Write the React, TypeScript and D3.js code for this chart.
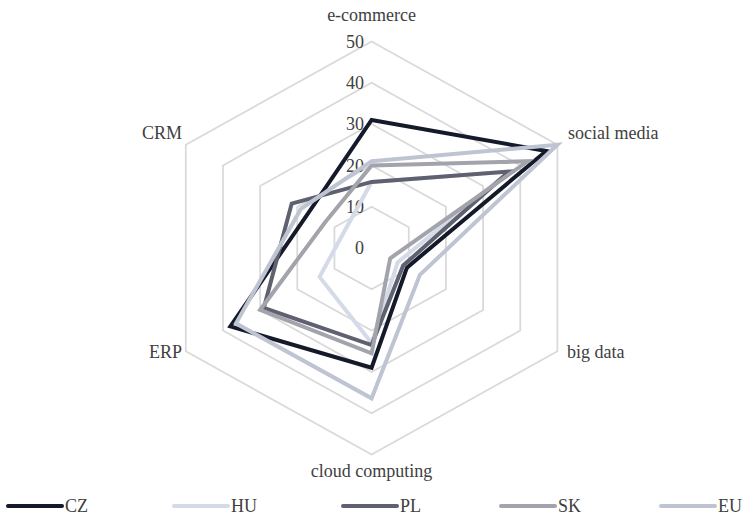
import React from "react";
import * as d3 from "d3";

const axes = ["e-commerce", "social media", "big data", "cloud computing", "ERP", "CRM"];
const seriesNames = ["CZ", "HU", "PL", "SK", "EU"];
const czValues = [31, 47, 9.5, 29, 38, 17];
const huValues = [16, 37, 7, 23, 14, 7.5];
const plValues = [16, 37, 8.5, 23.5, 29, 21.5];
const skValues = [20, 42, 5, 25.5, 30, 12.5];
const euValues = [21, 50, 13, 36.4, 36.5, 19];
const tickValues = [0, 10, 20, 30, 40, 50];
const seriesColors = ["#151a2b", "#d5dae8", "#5f6070", "#a3a4ab", "#bfc4d2"];

const W = 746;
const H = 518;
const cx = 371.6;
const cy = 248;
const R = 206.5;
const sx = 1.039;
const FONT = "'Liberation Serif', 'Times New Roman', serif";

export default function App() {
  const r = d3.scaleLinear().domain([0, 50]).range([0, R]);
  const angle = (i: number) => Math.PI / 2 - (i * Math.PI) / 3;
  const pt = (i: number, v: number): [number, number] => [
    cx + sx * r(v) * Math.cos(angle(i)),
    cy - r(v) * Math.sin(angle(i)),
  ];
  const line = d3
    .line<[number, number]>()
    .x((d) => d[0])
    .y((d) => d[1])
    .curve(d3.curveLinearClosed);
  const data = [czValues, huValues, plValues, skValues, euValues];

  const labelPos = [
    { x: cx, y: 15, anchor: "middle" },
    { x: 568, y: 133, anchor: "start" },
    { x: 567, y: 352, anchor: "start" },
    { x: cx, y: 471, anchor: "middle" },
    { x: 182, y: 352, anchor: "end" },
    { x: 182, y: 133, anchor: "end" },
  ];

  const legendX = [8, 174, 343, 501, 661];

  return (
    <svg
      width={W}
      height={H}
      style={{ position: "absolute", left: 0, top: 0, background: "#fff" }}
      fontFamily={FONT}
    >
      {tickValues
        .filter((t) => t > 0)
        .map((t) => (
          <path
            key={"g" + t}
            d={line(axes.map((_, i) => pt(i, t))) || ""}
            fill="none"
            stroke="#d9d9d9"
            strokeWidth={1.75}
          />
        ))}
      {tickValues.map((t) => (
        <text
          key={"t" + t}
          x={364}
          y={cy - r(t)}
          dy="0.35em"
          textAnchor="end"
          fontSize={18}
          fill="#404040"
        >
          {t}
        </text>
      ))}
      {axes.map((a, i) => (
        <text
          key={a}
          x={labelPos[i].x}
          y={labelPos[i].y}
          dy="0.35em"
          textAnchor={labelPos[i].anchor as any}
          fontSize={18}
          fill="#404040"
        >
          {a}
        </text>
      ))}
      {data.map((vals, s) => (
        <path
          key={seriesNames[s]}
          d={line(vals.map((v, i) => pt(i, v))) || ""}
          fill="none"
          stroke={seriesColors[s]}
          strokeWidth={4}
          strokeLinejoin="miter"
        />
      ))}
      {seriesNames.map((n, s) => (
        <g key={"l" + n} transform={`translate(${legendX[s]},506)`}>
          <line x1={0} x2={54} y1={0} y2={0} stroke={seriesColors[s]} strokeWidth={4} strokeLinecap="round" />
          <text x={57} y={0} dy="0.35em" fontSize={18} fill="#404040">
            {n}
          </text>
        </g>
      ))}
    </svg>
  );
}
